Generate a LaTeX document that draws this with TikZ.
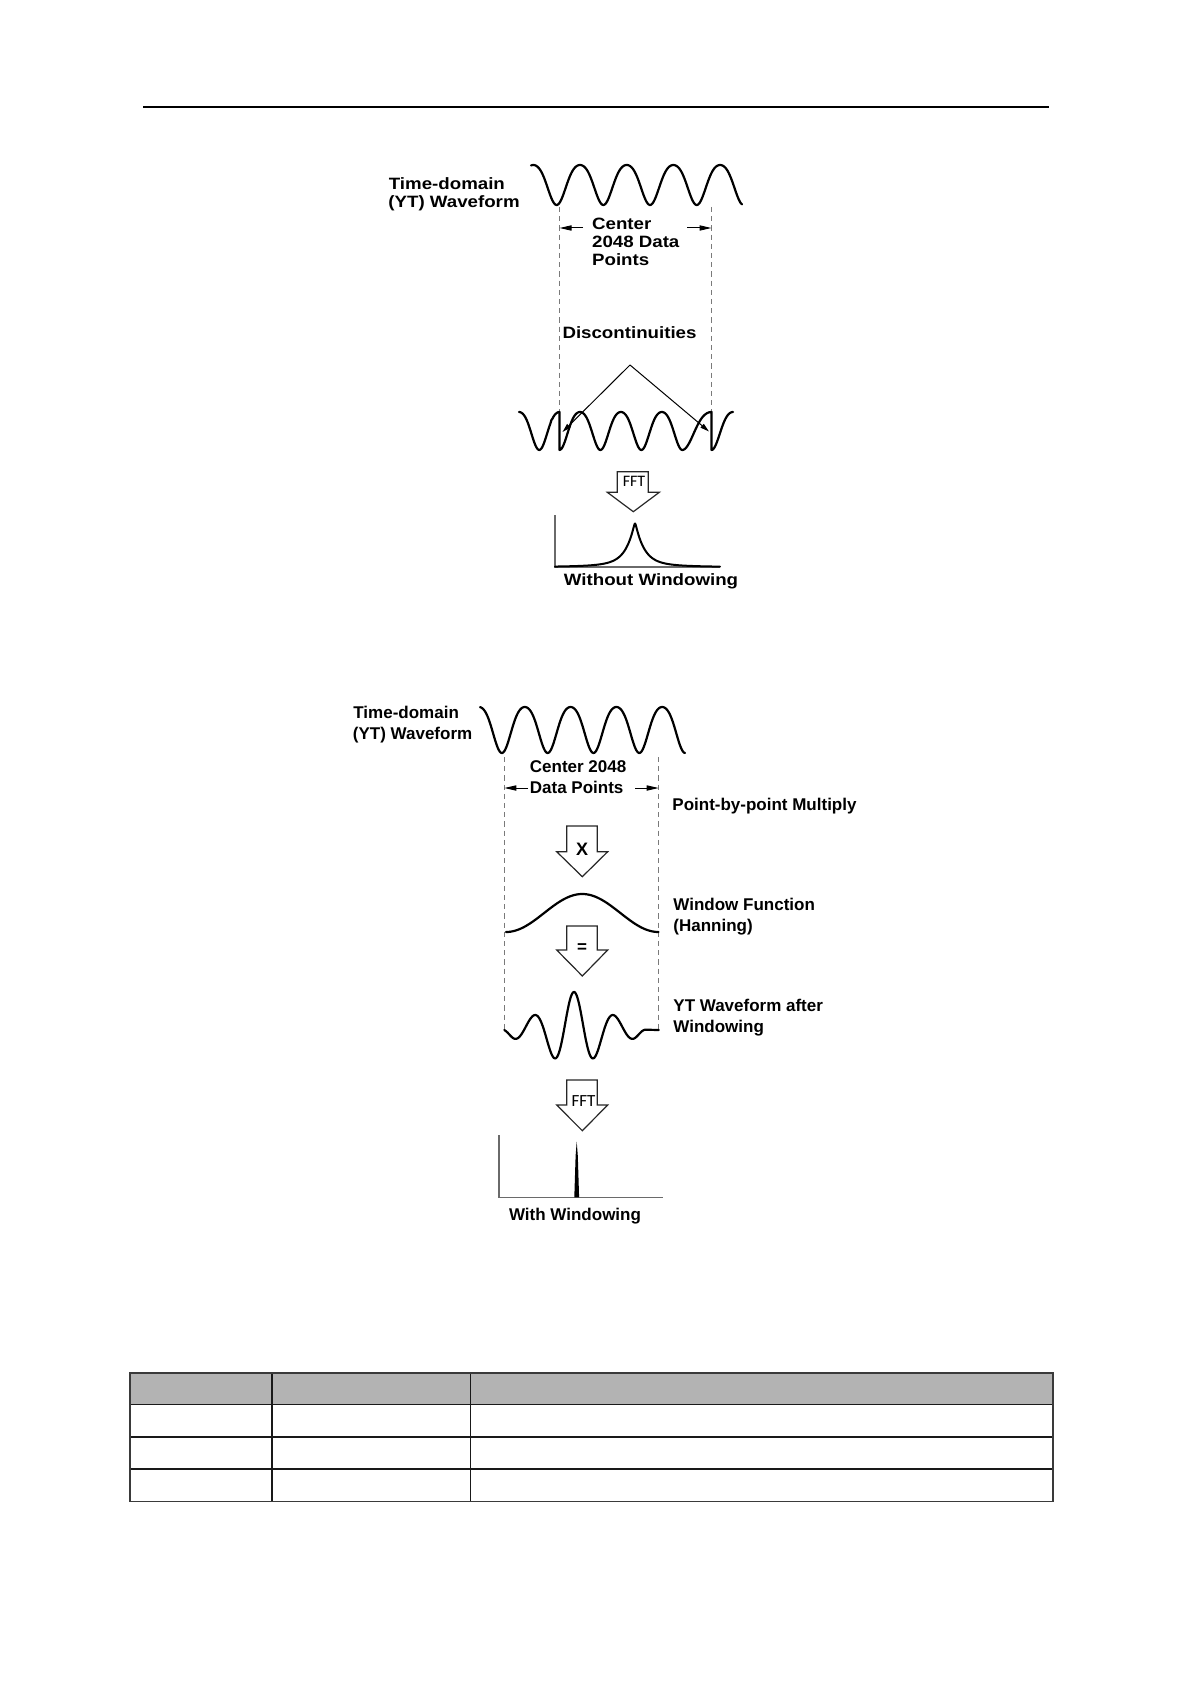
\documentclass[tikz,border=0pt]{standalone}
\usepackage{fontspec}
\setmainfont{Liberation Sans}
\newfontfamily\widefont{Liberation Sans}[FakeStretch=1.14]
\newfontfamily\calfont{Carlito}
\usetikzlibrary{arrows.meta}
\definecolor{hdrgray}{HTML}{B3B3B3}
\definecolor{rulegray}{HTML}{3A3A3A}
\definecolor{dashgray}{HTML}{7A7A7A}
\definecolor{axisgray}{HTML}{6A6A6A}
\begin{document}
\begin{tikzpicture}[x=0.5pt,y=-0.5pt,
  wave/.style={line width=1.1pt, line join=round, line cap=round},
  dashv/.style={draw=dashgray, line width=0.5pt, dash pattern=on 2.6pt off 2pt},
  dimarrow/.style={line width=0.5pt, -{Triangle[length=6pt,width=2.6pt]}},
  discarrow/.style={line width=0.5pt, -{Triangle[length=4.5pt,width=2.4pt]}},
  hollow/.style={draw=black!85, line width=0.6pt, line join=miter},
  axis/.style={draw=axisgray, line width=0.75pt},
  toptext/.style={font=\widefont\bfseries\fontsize{8.2}{9}\selectfont, inner sep=0pt, anchor=base west},
  sectext/.style={font=\bfseries\fontsize{8.5}{10}\selectfont, inner sep=0pt, anchor=base west},
  ffttext/.style={font=\calfont\fontsize{8}{9}\selectfont, inner sep=0pt},
  optext/.style={font=\bfseries\fontsize{9}{10}\selectfont, inner sep=0pt},
  tabline/.style={draw=black!90, line width=0.6pt},
  tabouter/.style={draw=rulegray, line width=0.9pt}
]
\useasboundingbox (0,0) rectangle (1190,1684);

% page header rule
\coordinate (hl) at (143,107.5);
\coordinate (hr) at (1049,107.5);
\draw[line width=1pt] (hl) -- (hr);

% ================= Top diagram (without windowing) =================
\node[toptext] (td1) at (388.5,190) {Time-domain};
\node[toptext] (yt1) at (388,208) {(YT) Waveform};

\draw[wave] plot[domain=531:742,samples=220]
  (\x,{165+20*(0.88-cos(((\x-580)/46.7)*360)+0.12*cos(((\x-580)/46.7)*720))});

% dashed borders of the centre 2048 points
\coordinate (d1t) at (559.5,207);
\coordinate (d1b) at (559.5,414);
\coordinate (d2t) at (711.5,207);
\coordinate (d2b) at (711.5,413);
\draw[dashv] (d1t) -- (d1b);
\draw[dashv] (d2t) -- (d2b);

\node[toptext] (c1) at (591.7,230) {Center};
\node[toptext] (c2) at (591.7,248) {2048 Data};
\node[toptext] (c3) at (591.7,266) {Points};
\coordinate (a1s) at (583,228);
\coordinate (a1e) at (559.5,228);
\coordinate (a2s) at (687,228);
\coordinate (a2e) at (711.5,228);
\draw[dimarrow] (a1s) -- (a1e);
\draw[dimarrow] (a2s) -- (a2e);

\node[toptext, anchor=base] (disc) at (629.5,339) {Discontinuities};
\coordinate (apex) at (630,365);
\coordinate (dl) at (562.5,432);
\coordinate (dr) at (709,431.5);
\draw[discarrow] (apex) -- (dl);
\draw[discarrow] (apex) -- (dr);

% repeated waveform with discontinuities
\draw[wave] plot[domain=519:559.5,samples=41]
    (\x,{412+19*(0.88-cos(((\x-519)/40.5)*360)+0.12*cos(((\x-519)/40.5)*720))})
  -- (559.5,450)
  -- plot[domain=559.5:682.3,samples=124]
    (\x,{412+19*(0.88-cos(((\x-559.5)/40.93)*360+180)+0.12*cos(((\x-559.5)/40.93)*720+360))})
  -- plot[domain=682.3:711.5,samples=30]
    (\x,{412+19*(0.88-cos(((\x-682.3)/58.4)*360+180)+0.12*cos(((\x-682.3)/58.4)*720+360))})
  -- (711.5,450)
  -- plot[domain=711.5:733,samples=23]
    (\x,{412+19*(0.88-cos(((\x-711.5)/43)*360+180)+0.12*cos(((\x-711.5)/43)*720+360))});

% FFT hollow arrow
\draw[hollow] (617.3,471.7) -- (648.3,471.7) -- (648.3,492.3) -- (659.3,492.3) -- (633.3,511.7) -- (607.3,492.3) -- (617.3,492.3) -- cycle;
\node[ffttext] (fft1) at (634,481) {FFT};

% spectrum without windowing
\coordinate (o1) at (555,567);
\coordinate (y1) at (555,515);
\coordinate (x1) at (720,567);
\draw[axis] (y1) -- (o1) -- (x1);
\draw[wave, line width=1pt] plot[domain=555:720,samples=331]
  (\x,{567-40*exp(-sqrt((\x-635)*(\x-635)+0.4)/8.5)-6.5*exp(-sqrt((\x-635)*(\x-635)+0.4)/30)});
\node[toptext, anchor=base] (wo) at (651,585) {Without Windowing};

% ================= Bottom diagram (with windowing) =================
\node[sectext] (td2) at (353,718.5) {Time-domain};
\node[sectext] (yt2) at (352.5,739) {(YT) Waveform};

\draw[wave] plot[domain=480:685,samples=220]
  (\x,{707+23*(0.88-cos(((\x-524.8)/45.8)*360)+0.12*cos(((\x-524.8)/45.8)*720))});

\coordinate (e1t) at (504.3,757);
\coordinate (e1b) at (504.3,1029);
\coordinate (e2t) at (658.7,757);
\coordinate (e2b) at (658.7,1029);
\draw[dashv] (e1t) -- (e1b);
\draw[dashv] (e2t) -- (e2b);

\node[sectext] (c21) at (529.5,772.5) {Center 2048};
\node[sectext] (c22) at (529.5,793.5) {Data Points};
\coordinate (b1s) at (528,788);
\coordinate (b1e) at (504.3,788);
\coordinate (b2s) at (635,788);
\coordinate (b2e) at (658.7,788);
\draw[dimarrow] (b1s) -- (b1e);
\draw[dimarrow] (b2s) -- (b2e);

\node[sectext] (pbp) at (672,810.5) {Point-by-point Multiply};

% X arrow
\draw[hollow] (566.7,826) -- (597.3,826) -- (597.3,851.7) -- (607.7,851.7) -- (582.3,876.7) -- (556.7,851.7) -- (566.7,851.7) -- cycle;
\node[optext] (xop) at (582,849.5) {X};

% Hanning window
\draw[wave] plot[domain=506:658.5,samples=120] (\x,{932-38*sin(((\x-506)/152.5)*180)*sin(((\x-506)/152.5)*180)});
\node[sectext] (wf1) at (673,910.5) {Window Function};
\node[sectext] (wf2) at (673,931.5) {(Hanning)};

% = arrow
\draw[hollow] (566.7,926) -- (597.3,926) -- (597.3,950) -- (607.7,950) -- (582.3,976) -- (556.7,950) -- (566.7,950) -- cycle;
\node[optext, font=\bfseries\fontsize{8.5}{10}\selectfont] (eqop) at (582,948) {=};

% windowed waveform
\draw[wave] (504.3,1030) -- plot[domain=505:645,samples=281]
  (\x,{1030-(28*exp(-((\x-574)/30)*((\x-574)/30))+10*exp(-pow(abs(\x-574)/68,12)))*cos(((\x-574)/40)*360)})
  -- (658.7,1030);
\node[sectext] (ya1) at (673,1011.5) {YT Waveform after};
\node[sectext] (ya2) at (673,1032.5) {Windowing};

% FFT arrow
\draw[hollow] (566.7,1080) -- (597.3,1080) -- (597.3,1105) -- (607.7,1105) -- (582.3,1130.7) -- (556.7,1105) -- (566.7,1105) -- cycle;
\node[ffttext, font=\calfont\fontsize{8.5}{9}\selectfont] (fft2) at (583.5,1101) {FFT};

% spectrum with windowing
\coordinate (o2) at (499,1197.3);
\coordinate (y2) at (499,1135);
\coordinate (x2) at (662.7,1197.3);
\draw[axis] (y2) -- (o2) -- (x2);
\fill (574.3,1197.3) -- (575.6,1156) -- (576.7,1141.5) -- (577.8,1156) -- (579.1,1197.3) -- cycle;
\node[sectext, anchor=base] (ww) at (575,1220.5) {With Windowing};

% ================= Empty table =================
\fill[hdrgray] (130,1373) rectangle (1052.7,1404.5);
\draw[tabline] (130,1404.5) -- (1052.7,1404.5);
\draw[tabline] (130,1437) -- (1052.7,1437);
\draw[tabline] (130,1469) -- (1052.7,1469);
\draw[tabline] (272,1373) -- (272,1501.5);
\draw[tabline] (470.4,1373) -- (470.4,1501.5);
\draw[tabouter] (130,1373) rectangle (1052.7,1501.5);
\end{tikzpicture}
\end{document}
